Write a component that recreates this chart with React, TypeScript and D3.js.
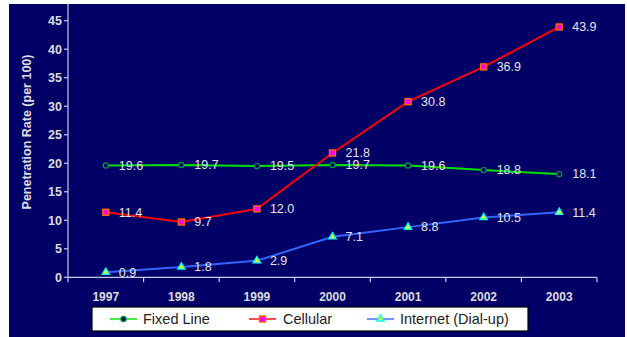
import React from "react";
import * as d3 from "d3";

const years = ["1997", "1998", "1999", "2000", "2001", "2002", "2003"];
const fixedLine = [19.6, 19.7, 19.5, 19.7, 19.6, 18.8, 18.1];
const cellular = [11.4, 9.7, 12.0, 21.8, 30.8, 36.9, 43.9];
const internet = [0.9, 1.8, 2.9, 7.1, 8.8, 10.5, 11.4];
const yTicks = [0, 5, 10, 15, 20, 25, 30, 35, 40, 45];
const seriesNames = ["Fixed Line", "Cellular", "Internet (Dial-up)"];

const W = 627, H = 337;
const left = 68, right = 597, top = 20.7, bottom = 277.3;

export default function App() {
  const x = d3.scaleBand<string>().domain(years).range([left, right]);
  const y = d3.scaleLinear().domain([0, 45]).range([bottom, top]);
  const cx = (i: number) => (x(years[i]) as number) + x.bandwidth() / 2;
  const line = d3
    .line<number>()
    .x((_, i) => cx(i))
    .y((d) => y(d))
    .curve(d3.curveLinear);

  const series = [
    { name: seriesNames[0], data: fixedLine, color: "#00e000", marker: "circle" },
    { name: seriesNames[1], data: cellular, color: "#ff0000", marker: "square" },
    { name: seriesNames[2], data: internet, color: "#3366ff", marker: "triangle" },
  ];

  const marker = (type: string, px: number, py: number, key: string) => {
    if (type === "circle")
      return <circle key={key} cx={px} cy={py} r={2.6} fill="#000066" stroke="#009944" strokeWidth={1.2} />;
    if (type === "square")
      return <rect key={key} x={px - 3} y={py - 3} width={6} height={6} fill="#ff00ff" stroke="#ff6600" strokeWidth={1.4} />;
    const tri = d3.symbol().type(d3.symbolTriangle).size(22)();
    return <path key={key} d={tri as string} transform={`translate(${px},${py})`} fill="#ffff00" stroke="#00ffff" strokeWidth={1.4} />;
  };

  const font = "Arial, 'Liberation Sans', sans-serif";
  const legendItems = [
    { lx: 110, tx: 143 },
    { lx: 249, tx: 283 },
    { lx: 367, tx: 400 },
  ];

  return (
    <svg width={W} height={H} style={{ position: "absolute", left: 0, top: 0, background: "#fff" }} fontFamily={font}>
      <rect x={9} y={4} width={616} height={H - 4} fill="#000066" />
      {/* y axis */}
      <line x1={left} x2={left} y1={4} y2={bottom} stroke="#c8c8e8" strokeWidth={1.2} />
      {yTicks.map((t) => (
        <g key={t}>
          <line x1={left - 4} x2={left} y1={y(t)} y2={y(t)} stroke="#c8c8e8" strokeWidth={1.2} />
          <text x={left - 6} y={y(t)} dy="0.35em" textAnchor="end" fill="#dcdcdc" fontSize={12.5} fontWeight="bold">
            {t}
          </text>
        </g>
      ))}
      <text
        transform={`translate(31,${(52 + 212) / 2}) rotate(-90)`}
        textAnchor="middle"
        fill="#dcdcdc"
        fontSize={12.5}
        fontWeight="bold"
      >
        Penetration Rate (per 100)
      </text>
      {/* x axis */}
      <line x1={left} x2={right} y1={bottom} y2={bottom} stroke="#c8c8e8" strokeWidth={1.2} />
      {years.map((yr, i) => (
        <g key={yr}>
          <line x1={x(yr) as number} x2={x(yr) as number} y1={bottom} y2={bottom + 5} stroke="#c8c8e8" strokeWidth={1.2} />
          <text x={cx(i)} y={301} textAnchor="middle" fill="#dcdcdc" fontSize={12} fontWeight="bold">
            {yr}
          </text>
        </g>
      ))}
      <line x1={right} x2={right} y1={bottom} y2={bottom + 5} stroke="#c8c8e8" strokeWidth={1.2} />
      {/* series */}
      {series.map((s) => (
        <g key={s.name}>
          <path d={line(s.data) as string} fill="none" stroke={s.color} strokeWidth={2} />
          {s.data.map((v, i) => marker(s.marker, cx(i), y(v), s.name + i))}
          {s.data.map((v, i) => (
            <text key={"l" + i} x={cx(i) + 13} y={y(v)} dy="0.35em" fill="#e4e4e4" fontSize={12.5}>
              {v.toFixed(1)}
            </text>
          ))}
        </g>
      ))}
      {/* legend */}
      <rect x={92} y={307} width={436} height={24} fill="#ffffff" stroke="#000" strokeWidth={1.2} />
      {series.map((s, i) => (
        <g key={"lg" + i}>
          <line x1={legendItems[i].lx} x2={legendItems[i].lx + 27} y1={319} y2={319} stroke={s.color} strokeWidth={2} opacity={0.7} />
          {marker(s.marker, legendItems[i].lx + 13.5, 319, "lm" + i)}
          <text x={legendItems[i].tx} y={319} dy="0.36em" fill="#222" fontSize={14.5}>
            {s.name}
          </text>
        </g>
      ))}
    </svg>
  );
}
